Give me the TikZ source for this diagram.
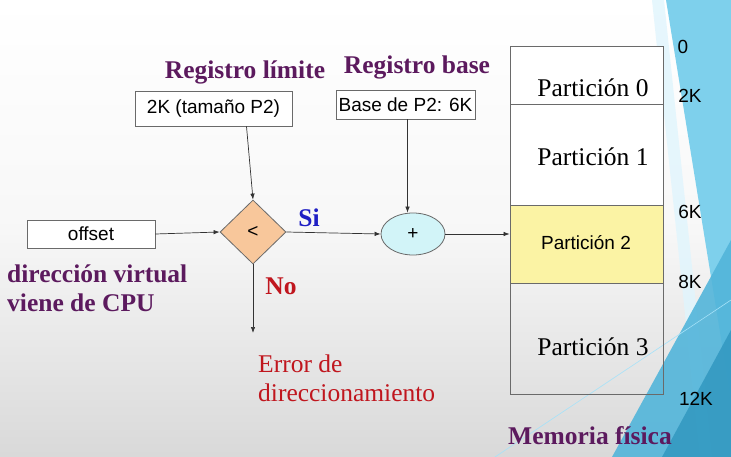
\documentclass[tikz,border=0pt]{standalone}
\usepackage{fontspec}
\setmainfont{Liberation Serif}
\setsansfont{Liberation Sans}
\usetikzlibrary{shapes.geometric,arrows.meta}
\definecolor{purp}{HTML}{5C1A5E}
\definecolor{redt}{HTML}{C0161E}
\definecolor{bluet}{HTML}{1F1FC4}
\definecolor{peach}{HTML}{F8C79B}
\definecolor{cyanf}{HTML}{D2F4F8}
\definecolor{yel}{HTML}{FBF3A4}
\definecolor{edge}{HTML}{6A6A6A}
\definecolor{facetA}{HTML}{7ED0EC}
\definecolor{facetB}{HTML}{52B5DA}
\definecolor{facetC}{HTML}{3298C0}
\tikzset{
  big/.style={font=\fontsize{25.5}{29}\selectfont, inner sep=0pt},
  ttl/.style={big, font=\fontsize{25.5}{29}\selectfont\bfseries, text=purp},
  sans/.style={font=\sffamily\fontsize{19}{22}\selectfont, inner sep=0pt},
  regbox/.style={draw=edge, fill=white, line width=0.8pt, sans, inner sep=0pt},
  conn/.style={draw=black!80, line width=0.7pt, -{Latex[length=6pt,width=4.5pt]}},
  part/.style={draw=edge, line width=0.8pt}
}
\begin{document}
\begin{tikzpicture}[x=1pt,y=-1pt]
\useasboundingbox (0,0) rectangle (731,457);
% background
\shade[top color=white, bottom color=black!15, middle color=white!97!black] (0,0) rectangle (731,457);
\fill[cyan!12, opacity=0.8] (652,0) -- (664,0) -- (712,457) -- (700,457) -- cycle;
\fill[facetA] (666,0) -- (731,0) -- (731,400) -- cycle;
\fill[facetB, opacity=0.9] (731,240) -- (731,457) -- (612,457) -- cycle;
\fill[facetC, opacity=0.85] (731,330) -- (731,457) -- (662,457) -- cycle;
\draw[cyan!35, line width=0.6pt] (495,457) -- (731,300);

% memory
\node[part, fill=white, minimum width=153pt, minimum height=58pt, inner sep=0pt] (p0) at (586.5,75) {};
\node[part, fill=white, minimum width=153pt, minimum height=101pt, inner sep=0pt] (p1) at (586.5,154.5) {};
\node[part, fill=yel, minimum width=153pt, minimum height=78pt, inner sep=0pt] (p2) at (586.5,244) {};
\node[part, minimum width=153pt, minimum height=111pt, inner sep=0pt] (p3) at (586.5,338.5) {};
\node[big] (t0) at (593,88) {Partición 0};
\node[big] (t1) at (593,157) {Partición 1};
\node[sans] (t2) at (586,243) {Partición 2};
\node[big] (t3) at (593,347) {Partición 3};
\node[sans] (k0) at (683,47) {0};
\node[sans] (k2) at (690,96) {2K};
\node[sans] (k6) at (690,212) {6K};
\node[sans] (k8) at (690,282) {8K};
\node[sans] (k12) at (696,399) {12K};
\node[ttl] (mem) at (590,436) {Memoria física};

% registers
\node[ttl] (rl) at (245,72) {Registro límite};
\node[ttl] (rb) at (417,67) {Registro base};
\node[regbox, minimum width=157pt, minimum height=35pt] (lim) at (213.5,108.5) {2K (tamaño P2)};
\node[regbox, minimum width=139pt, minimum height=29pt] (base) at (405.5,104.5) {Base de P2: 6K};
\node[regbox, minimum width=128pt, minimum height=28pt] (off) at (91,234) {offset};

% compare and add
\node[diamond, aspect=1, draw=edge, fill=peach, line width=0.8pt, minimum width=66pt, minimum height=64pt, inner sep=0pt, sans] (cmp) at (253,232) {<};
\node[ellipse, draw=edge, fill=cyanf, line width=0.8pt, minimum width=64pt, minimum height=42pt, inner sep=0pt, sans] (sum) at (413,234) {+};

\node[ttl, text=bluet] (si) at (309,218) {Si};
\node[ttl, text=redt] (no) at (281,286) {No};
\node[ttl, align=left, anchor=west] (dv) at (7,288) {dirección virtual\\viene de CPU};
\node[big, text=redt, align=left, anchor=west] (err) at (258,378) {Error de\\direccionamiento};
\coordinate (errpt) at (253,333);

% connectors
\draw[conn] (off.east) -- (cmp.west);
\draw[conn] ([xshift=33pt]lim.south) -- (cmp.north);
\draw[conn] ([xshift=2pt]base.south) -- ([xshift=2pt]base.south |- sum.north);
\draw[conn] (cmp.east) -- (sum.west);
\draw[conn] (sum.east) -- (sum.east -| p2.west);
\draw[conn] (cmp.south) -- (errpt);
\end{tikzpicture}
\end{document}
